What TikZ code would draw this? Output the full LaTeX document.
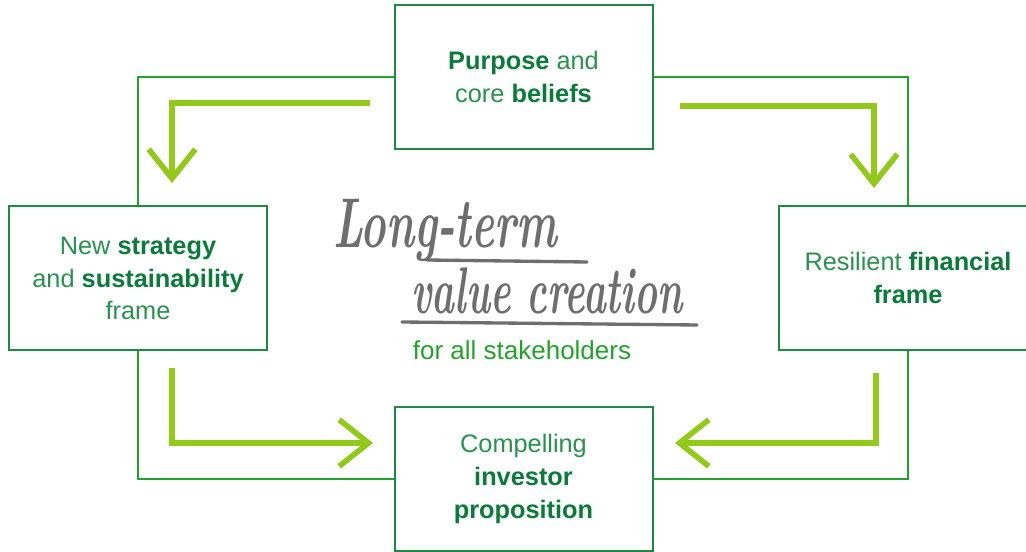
\documentclass[tikz,border=0pt]{standalone}
\usepackage{fontspec}
\usepackage{graphicx}
\setmainfont{Liberation Sans}
\newfontfamily\handfont{Latin Modern Roman}
\usetikzlibrary{arrows.meta, positioning, calc}

\definecolor{boxgreen}{HTML}{1E8A45}
\definecolor{framegreen}{HTML}{22A32E}
\definecolor{darkgreen}{HTML}{0B7A3B}
\definecolor{textgreen}{HTML}{2A9150}
\definecolor{limegreen}{HTML}{93C81C}
\definecolor{brushgray}{HTML}{6E6E6E}
\definecolor{stakegreen}{HTML}{25A22D}

\newcommand{\keyword}[1]{{\bfseries\color{darkgreen}#1}}

\begin{document}
\begin{tikzpicture}[x=0.75pt, y=-0.75pt,
  stage/.style={draw=boxgreen, line width=1.5pt, fill=white,
    minimum width=193.5pt, minimum height=108pt, inner sep=0pt,
    align=center, text=textgreen, font=\fontsize{19}{24.5}\selectfont},
  loopline/.style={draw=framegreen, line width=1.5pt},
  brush/.style={draw=limegreen, line width=4.2pt, line join=miter,
    -{Straight Barb[length=22pt, width=35pt]}},
  handtext/.style={text=brushgray, font=\handfont\bfseries\itshape\fontsize{33}{33}\selectfont},
  underbrush/.style={draw=brushgray, line width=2.5pt, line cap=round}
]
\useasboundingbox (0,0) rectangle (1026,552);

% Stages
\node[stage] (purpose) at (523.5,77) {\keyword{Purpose} and\\core \keyword{beliefs}};
\node[stage] (strategy) at (138,278.5) {New \keyword{strategy}\\and \keyword{sustainability}\\frame};
\node[stage] (financial) at (908,278) {Resilient \keyword{financial}\\\keyword{frame}};
\node[stage] (proposition) at (523.5,479) {Compelling\\\keyword{investor}\\\keyword{proposition}};

% Loop frame
\draw[loopline] (purpose.west) -| (strategy.north);
\draw[loopline] (strategy.south) |- (proposition.west);
\draw[loopline] (purpose.east) -| (financial.north);
\draw[loopline] (financial.south) |- (proposition.east);

% Centre title
\node[handtext] (longterm) at (445,230) {\scalebox{0.98}[1.6]{Long-term}};
\node[handtext] (valuecreation) at (547,291) {\scalebox{0.88}[1.5]{value creation}};
\coordinate (ulineA) at (427,260);
\coordinate (ulineB) at (587,262);
\coordinate (ulineC) at (402,322);
\coordinate (ulineD) at (697,325);
\draw[underbrush] (ulineA) -- (ulineB);
\draw[underbrush] (ulineC) -- (ulineD);
\node[text=stakegreen, font=\fontsize{19.5}{24}\selectfont] (stakeholders) at (522,350) {for all stakeholders};

% Flow arrows
\coordinate (tlstart) at (370,103);
\coordinate (tlend) at (172,183);
\coordinate (trstart) at (680,106);
\coordinate (trend) at (874,188);
\coordinate (blstart) at (172,368);
\coordinate (blend) at (373,443);
\coordinate (brstart) at (876,373);
\coordinate (brend) at (675,443);
\draw[brush] (tlstart) -| (tlend);
\draw[brush] (trstart) -| (trend);
\draw[brush] (blstart) |- (blend);
\draw[brush] (brstart) |- (brend);
\end{tikzpicture}
\end{document}
